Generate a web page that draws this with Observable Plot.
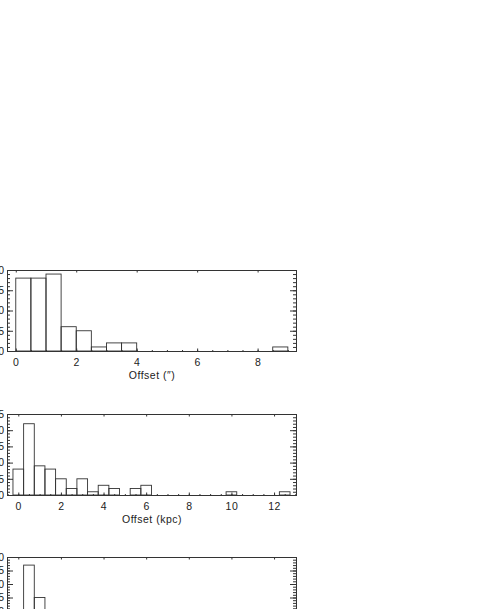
<!DOCTYPE html>
<html>
<head>
<meta charset="utf-8">
<script src="https://cdn.jsdelivr.net/npm/d3@7"></script>
<script src="https://cdn.jsdelivr.net/npm/@observablehq/plot@0.6"></script>
<style>
  body { margin: 0; background: #fff; }
  #wrap { position: relative; width: 491px; height: 609px; overflow: hidden; background: #fff; }
  #wrap svg { position: absolute; left: 0; }
</style>
</head>
<body>
<div id="wrap"></div>
<script>
// ---- Panel 1: offset in arcsec (bins of 0.5", left edges) ----
const arcsecBinStart = [0, 0.5, 1, 1.5, 2, 2.5, 3, 3.5, 4, 4.5, 5, 5.5, 6, 6.5, 7, 7.5, 8, 8.5];
const arcsecCounts   = [18, 18, 19, 6, 5, 1, 2, 2, 0, 0, 0, 0, 0, 0, 0, 0, 0, 1];
const arcsecXTicks   = [0, 2, 4, 6, 8];
const arcsecYTicks   = [0, 5, 10, 15, 20];
const arcsecLabel    = "Offset (\u2033)";

// ---- Panel 2: offset in kpc (bins of 0.5 kpc, centres) ----
const kpcBinCentre = [0, 0.5, 1, 1.5, 2, 2.5, 3, 3.5, 4, 4.5, 5, 5.5, 6, 6.5, 7, 7.5, 8, 8.5, 9, 9.5, 10, 10.5, 11, 11.5, 12, 12.5];
const kpcCounts    = [8, 22, 9, 8, 5, 2, 5, 1, 3, 2, 0, 2, 3, 0, 0, 0, 0, 0, 0, 0, 1, 0, 0, 0, 0, 1];
const kpcXTicks    = [0, 2, 4, 6, 8, 10, 12];
const kpcYTicks    = [0, 5, 10, 15, 20, 25];
const kpcLabel     = "Offset (kpc)";

// ---- Panel 3: only the visible top of the panel (bins of 0.5, centres) ----
const p3BinCentre = [0.5, 1];
const p3Counts    = [27, 15];
const p3XTicks    = [0, 2, 4, 6, 8, 10, 12];
const p3YTicks    = [0, 5, 10, 15, 20, 25, 30];

const W = 289, H = 81;
const ML = 7, MR = 195, MT = 10, MB = 35;
const INK = "#333";

function minorTicks(domain, step) {
  const out = [];
  const start = Math.ceil(domain[0] / step) * step;
  for (let v = start; v <= domain[1] + 1e-9; v += step) out.push(+v.toFixed(6));
  return out;
}

function panel({bars, xDomain, yDomain, xTicks, yTicks, xMinorStep, label, top, showX}) {
  const xMinor = minorTicks(xDomain, xMinorStep);
  const yMinor = minorTicks(yDomain, 1);
  const marks = [
    Plot.rect(bars.filter(d => d.n > 0), {x1: d => d.x1, x2: d => d.x2, y1: () => 0, y2: d => d.n, fill: "none", stroke: INK, strokeWidth: 0.9}),
    // y ticks (inward), left and right
    Plot.tickY(yMinor, {y: d => d, insetRight: W - 3, stroke: INK}),
    Plot.tickY(yMinor, {y: d => d, insetLeft: W - 3, stroke: INK}),
    Plot.tickY(yTicks, {y: d => d, insetRight: W - 6, stroke: INK}),
    Plot.tickY(yTicks, {y: d => d, insetLeft: W - 6, stroke: INK}),
    // x ticks (inward), bottom and top
    Plot.tickX(xMinor, {x: d => d, insetTop: H - 1, stroke: INK}),
    Plot.tickX(xMinor, {x: d => d, insetBottom: H - 1, stroke: INK}),
    Plot.tickX(xTicks, {x: d => d, insetTop: H - 2.5, stroke: INK}),
    Plot.tickX(xTicks, {x: d => d, insetBottom: H - 2.5, stroke: INK}),
    Plot.frame({stroke: INK}),
    Plot.axisY(yTicks, {tickSize: 0, tickPadding: 3, label: null, fill: "#222"})
  ];
  if (showX) {
    marks.push(Plot.axisX(xTicks, {tickSize: 0, tickPadding: 7, label: null, fill: "#222"}));
    marks.push(Plot.text([label], {frameAnchor: "bottom", lineAnchor: "top", dy: 20, text: d => d, fill: "#222"}));
  }
  const svg = Plot.plot({
    width: 491,
    height: MT + H + MB,
    marginLeft: ML, marginRight: MR, marginTop: MT, marginBottom: MB,
    x: {type: "linear", domain: xDomain},
    y: {type: "linear", domain: yDomain},
    style: {fontFamily: "'Liberation Sans', Arial, sans-serif", fontSize: "10.5px", letterSpacing: "0.5px", background: "white", color: "black"},
    marks
  });
  svg.style.top = top + "px";
  document.getElementById("wrap").appendChild(svg);
}

panel({
  bars: arcsecBinStart.map((s, i) => ({x1: s, x2: s + 0.5, n: arcsecCounts[i]})),
  xDomain: [-0.29, 9.27], yDomain: [0, 20],
  xTicks: arcsecXTicks, yTicks: arcsecYTicks, xMinorStep: 0.5,
  label: arcsecLabel, top: 260, showX: true
});

panel({
  bars: kpcBinCentre.map((c, i) => ({x1: c - 0.25, x2: c + 0.25, n: kpcCounts[i]})),
  xDomain: [-0.53, 13.03], yDomain: [0, 25],
  xTicks: kpcXTicks, yTicks: kpcYTicks, xMinorStep: 0.5,
  label: kpcLabel, top: 404, showX: true
});

panel({
  bars: p3BinCentre.map((c, i) => ({x1: c - 0.25, x2: c + 0.25, n: p3Counts[i]})),
  xDomain: [-0.53, 13.03], yDomain: [0, 30],
  xTicks: p3XTicks, yTicks: p3YTicks, xMinorStep: 0.5,
  label: "", top: 547, showX: false
});
</script>
</body>
</html>
